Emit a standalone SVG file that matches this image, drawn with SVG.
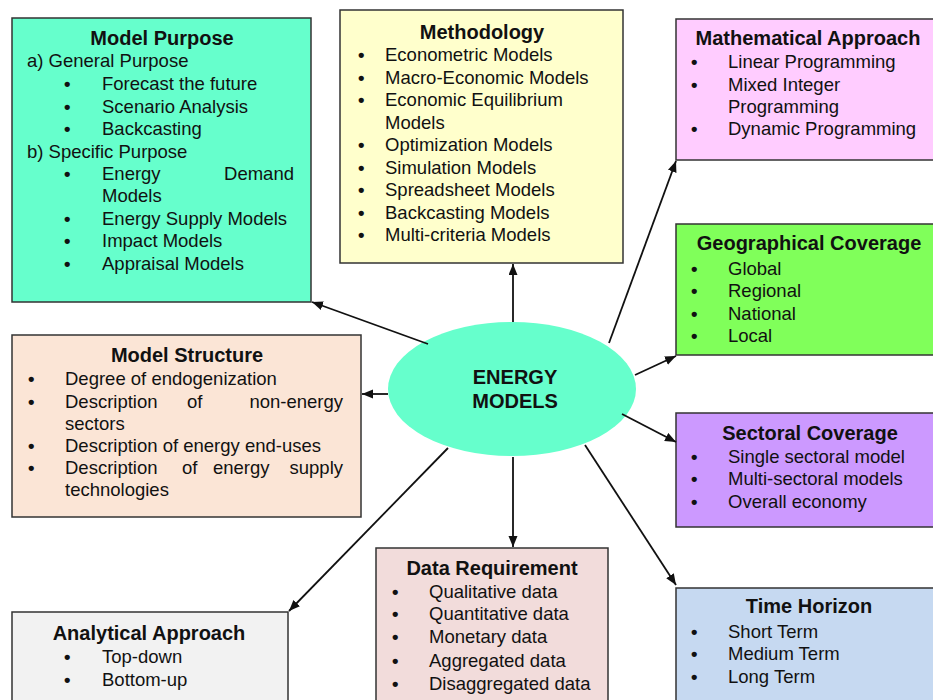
<svg xmlns="http://www.w3.org/2000/svg" width="933" height="700" viewBox="0 0 933 700">
<defs>
<marker id="ah" markerUnits="userSpaceOnUse" markerWidth="12" markerHeight="10" refX="11" refY="4.5" orient="auto">
<path d="M0,0 L11,4.5 L0,9 z" fill="#111"/>
</marker>
</defs>
<style>
.box{stroke:#333;stroke-width:1.5}
text{font-family:"Liberation Sans",Arial,sans-serif;fill:#111}
.t{font-size:20px;font-weight:bold;text-anchor:middle}
.b{font-size:18.5px}
.d{font-size:18.5px;font-weight:bold}
.c{stroke:#111;stroke-width:1.8;fill:none;marker-end:url(#ah)}
</style>
<rect width="933" height="700" fill="#fff"/>

<g id="energy-models">
<ellipse cx="512" cy="389" rx="124" ry="67" fill="#66FFCC"/>
<text class="t" x="515" y="384">ENERGY</text>
<text class="t" x="515" y="408">MODELS</text>
</g>

<g id="model-purpose">
<rect class="box" x="12" y="18" width="299" height="284" fill="#66FFCC"/>
<text class="t" x="162" y="45">Model Purpose</text>
<text class="b" x="27" y="67">a) General Purpose</text>
<text class="d" x="64" y="90">•</text><text class="b" x="102" y="90">Forecast the future</text>
<text class="d" x="64" y="113">•</text><text class="b" x="102" y="113">Scenario Analysis</text>
<text class="d" x="64" y="135">•</text><text class="b" x="102" y="135">Backcasting</text>
<text class="b" x="27" y="158">b) Specific Purpose</text>
<text class="d" x="64" y="180">•</text><text class="b" x="102" y="180">Energy</text><text class="b" x="294" y="180" text-anchor="end">Demand</text>
<text class="b" x="102" y="202">Models</text>
<text class="d" x="64" y="225">•</text><text class="b" x="102" y="225">Energy Supply Models</text>
<text class="d" x="64" y="247">•</text><text class="b" x="102" y="247">Impact Models</text>
<text class="d" x="64" y="270">•</text><text class="b" x="102" y="270">Appraisal Models</text>
</g>

<g id="methodology">
<rect class="box" x="340" y="10" width="283" height="253" fill="#FFFFCC"/>
<text class="t" x="482" y="39">Methodology</text>
<text class="d" x="358" y="61">•</text><text class="b" x="385" y="61">Econometric Models</text>
<text class="d" x="358" y="83.5">•</text><text class="b" x="385" y="83.5">Macro-Economic Models</text>
<text class="d" x="358" y="106">•</text><text class="b" x="385" y="106">Economic Equilibrium</text>
<text class="b" x="385" y="128.5">Models</text>
<text class="d" x="358" y="151">•</text><text class="b" x="385" y="151">Optimization Models</text>
<text class="d" x="358" y="173.5">•</text><text class="b" x="385" y="173.5">Simulation Models</text>
<text class="d" x="358" y="196">•</text><text class="b" x="385" y="196">Spreadsheet Models</text>
<text class="d" x="358" y="218.5">•</text><text class="b" x="385" y="218.5">Backcasting Models</text>
<text class="d" x="358" y="241">•</text><text class="b" x="385" y="241">Multi-criteria Models</text>
</g>

<g id="mathematical-approach">
<rect class="box" x="676" y="19" width="270" height="141" fill="#FFCCFF"/>
<text class="t" x="808" y="45">Mathematical Approach</text>
<text class="d" x="691" y="68">•</text><text class="b" x="728" y="68">Linear Programming</text>
<text class="d" x="691" y="91">•</text><text class="b" x="728" y="91">Mixed Integer</text>
<text class="b" x="728" y="113">Programming</text>
<text class="d" x="691" y="135">•</text><text class="b" x="728" y="135">Dynamic Programming</text>
</g>

<g id="geographical-coverage">
<rect class="box" x="676" y="224" width="270" height="131" fill="#80FF5A"/>
<text class="t" x="809" y="250">Geographical Coverage</text>
<text class="d" x="691" y="275">•</text><text class="b" x="728" y="275">Global</text>
<text class="d" x="691" y="297">•</text><text class="b" x="728" y="297">Regional</text>
<text class="d" x="691" y="320">•</text><text class="b" x="728" y="320">National</text>
<text class="d" x="691" y="342">•</text><text class="b" x="728" y="342">Local</text>
</g>

<g id="sectoral-coverage">
<rect class="box" x="676" y="413" width="270" height="114" fill="#CC99FF"/>
<text class="t" x="810" y="440">Sectoral Coverage</text>
<text class="d" x="691" y="463">•</text><text class="b" x="728" y="463">Single sectoral model</text>
<text class="d" x="691" y="485">•</text><text class="b" x="728" y="485">Multi-sectoral models</text>
<text class="d" x="691" y="508">•</text><text class="b" x="728" y="508">Overall economy</text>
</g>

<g id="time-horizon">
<rect class="box" x="676" y="588" width="270" height="130" fill="#C6D9F1"/>
<text class="t" x="809" y="613">Time Horizon</text>
<text class="d" x="691" y="638">•</text><text class="b" x="728" y="638">Short Term</text>
<text class="d" x="691" y="660">•</text><text class="b" x="728" y="660">Medium Term</text>
<text class="d" x="691" y="683">•</text><text class="b" x="728" y="683">Long Term</text>
</g>

<g id="data-requirement">
<rect class="box" x="376" y="548" width="232" height="170" fill="#F2DCDB"/>
<text class="t" x="492" y="575">Data Requirement</text>
<text class="d" x="392" y="598">•</text><text class="b" x="429" y="598">Qualitative data</text>
<text class="d" x="392" y="620">•</text><text class="b" x="429" y="620">Quantitative data</text>
<text class="d" x="392" y="643">•</text><text class="b" x="429" y="643">Monetary data</text>
<text class="d" x="392" y="667">•</text><text class="b" x="429" y="667">Aggregated data</text>
<text class="d" x="392" y="690">•</text><text class="b" x="429" y="690">Disaggregated data</text>
</g>

<g id="analytical-approach">
<rect class="box" x="12" y="612" width="276" height="110" fill="#F2F2F2"/>
<text class="t" x="149" y="640">Analytical Approach</text>
<text class="d" x="64" y="663">•</text><text class="b" x="102" y="663">Top-down</text>
<text class="d" x="64" y="686">•</text><text class="b" x="102" y="686">Bottom-up</text>
</g>

<g id="model-structure">
<rect class="box" x="12" y="335" width="349" height="182" fill="#FBE5D6"/>
<text class="t" x="187" y="362">Model Structure</text>
<text class="d" x="28" y="385">•</text><text class="b" x="65" y="385">Degree of endogenization</text>
<text class="d" x="28" y="408">•</text><text class="b" x="65" y="408">Description</text><text class="b" x="187" y="408">of</text><text class="b" x="343" y="408" text-anchor="end">non-energy</text>
<text class="b" x="65" y="430">sectors</text>
<text class="d" x="28" y="452">•</text><text class="b" x="65" y="452">Description of energy end-uses</text>
<text class="d" x="28" y="474">•</text><text class="b" x="65" y="474">Description</text><text class="b" x="182" y="474">of</text><text class="b" x="213" y="474">energy</text><text class="b" x="343" y="474" text-anchor="end">supply</text>
<text class="b" x="65" y="496">technologies</text>
</g>

<g id="connectors">
<line class="c" x1="428" y1="344" x2="312" y2="302"/>
<line class="c" x1="513" y1="322" x2="513" y2="264"/>
<line class="c" x1="609" y1="343" x2="676" y2="161"/>
<line class="c" x1="635" y1="375" x2="676" y2="356"/>
<line class="c" x1="622" y1="414" x2="676" y2="442"/>
<line class="c" x1="585" y1="445" x2="676" y2="585"/>
<line class="c" x1="513" y1="457" x2="513" y2="547"/>
<line class="c" x1="448" y1="448" x2="289" y2="611"/>
<line class="c" x1="388" y1="394" x2="362" y2="394"/>
</g>
</svg>
